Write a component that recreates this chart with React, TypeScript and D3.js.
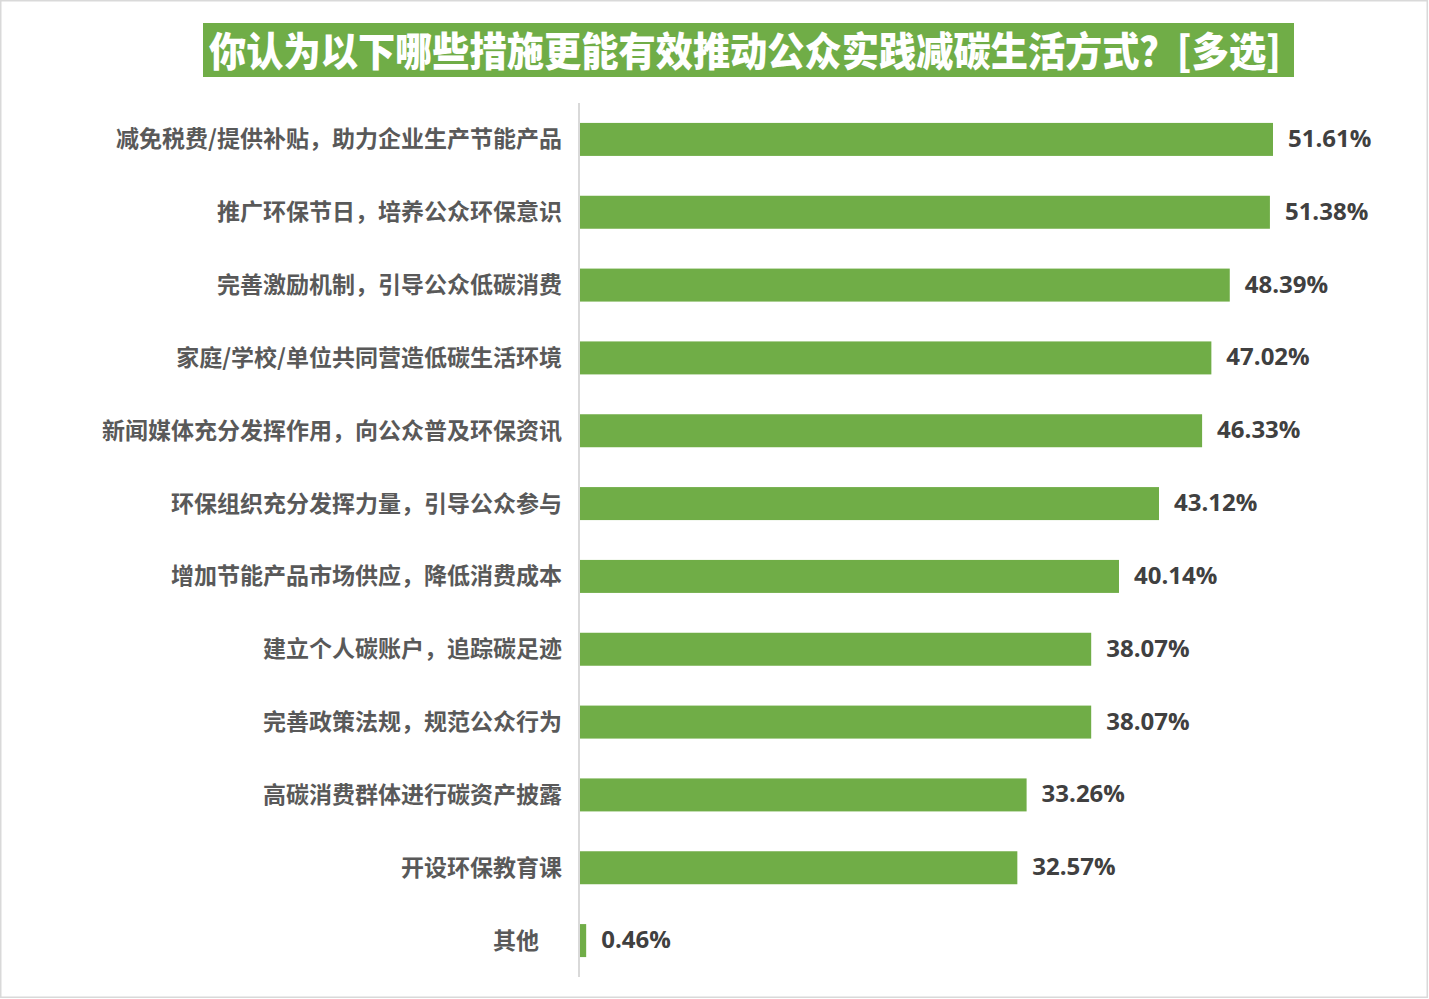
import React from "react";
import * as d3 from "d3";

const title = "你认为以下哪些措施更能有效推动公众实践减碳生活方式？[多选]";
const categories = [
  "减免税费/提供补贴，助力企业生产节能产品",
  "推广环保节日，培养公众环保意识",
  "完善激励机制，引导公众低碳消费",
  "家庭/学校/单位共同营造低碳生活环境",
  "新闻媒体充分发挥作用，向公众普及环保资讯",
  "环保组织充分发挥力量，引导公众参与",
  "增加节能产品市场供应，降低消费成本",
  "建立个人碳账户，追踪碳足迹",
  "完善政策法规，规范公众行为",
  "高碳消费群体进行碳资产披露",
  "开设环保教育课",
  "其他\u3000",
];
const values = [51.61, 51.38, 48.39, 47.02, 46.33, 43.12, 40.14, 38.07, 38.07, 33.26, 32.57, 0.46];

const W = 1429;
const H = 999;
const x0 = 580;
const green = "#70ad47";

export default function App() {
  const x = d3.scaleLinear().domain([0, 51.61]).range([x0, 1273]);
  const y = d3
    .scaleBand<string>()
    .domain(categories)
    .range([103, 977])
    .paddingInner(0.547)
    .paddingOuter(0.2735);
  const font = "'Noto Sans CJK SC', 'Noto Sans', sans-serif";
  const numFont = "'Open Sans', 'Noto Sans', sans-serif";
  return (
    <svg
      width={W}
      height={H}
      style={{ position: "absolute", left: 0, top: 0, display: "block" }}
    >
      <rect x={0} y={0} width={W} height={H} fill="#ffffff" />
      <rect x={0.75} y={0.75} width={1426.5} height={996.5} fill="none" stroke="#d9d9d9" strokeWidth={1.5} />
      <rect x={203} y={23} width={1091} height={54} fill={green} />
      <text
        x={209}
        y={49}
        dominantBaseline="central"
        fill="#ffffff"
        fontFamily={font}
        fontWeight={900}
        fontSize={40}
        textLength={1072}
        lengthAdjust="spacingAndGlyphs"
      >
        {title}
      </text>
      <line x1={579} x2={579} y1={103} y2={977} stroke="#d9d9d9" strokeWidth={2} />
      {categories.map((c, i) => {
        const yy = y(c)!;
        const bh = y.bandwidth();
        const xe = x(values[i]);
        return (
          <g key={c}>
            <rect x={x0} y={yy} width={xe - x0} height={bh} fill={green} />
            <text
              x={562}
              y={yy + bh / 2 - 2}
              textAnchor="end"
              dominantBaseline="central"
              fill="#595959"
              fontFamily={font}
              fontWeight={700}
              fontSize={23}
              style={{ whiteSpace: "pre" }}
            >
              {c}
            </text>
            <text
              x={xe + 15}
              y={yy + bh / 2 - 2}
              dominantBaseline="central"
              fill="#404040"
              fontFamily={numFont}
              fontWeight={700}
              fontSize={24}
            >
              {values[i].toFixed(2) + "%"}
            </text>
          </g>
        );
      })}
    </svg>
  );
}
